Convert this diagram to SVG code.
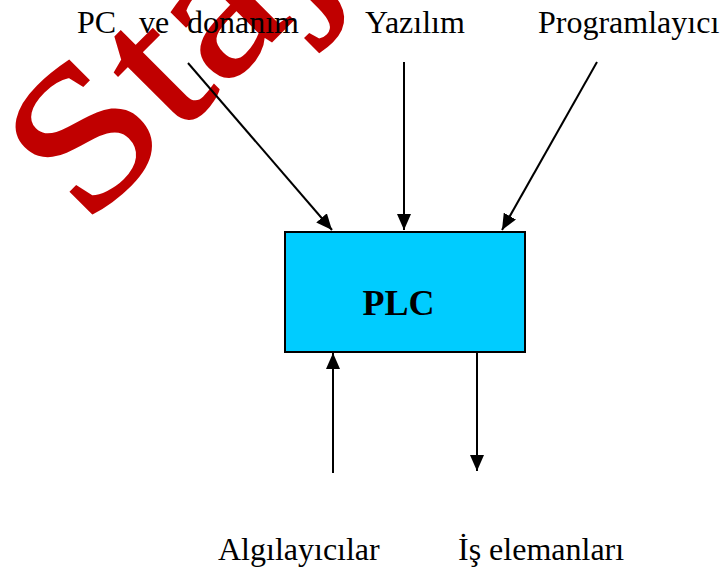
<svg xmlns="http://www.w3.org/2000/svg" width="721" height="572" viewBox="0 0 721 572">
  <style>
    .lbl { font-family: "Liberation Serif", "Times New Roman", serif; font-size: 32px; fill: #000; }
    .plc { font-family: "Liberation Serif", "Times New Roman", serif; font-size: 36px; font-weight: bold; fill: #000; }
    .conn { stroke: #000; stroke-width: 2; fill: none; }
  </style>
  <defs>
    <marker id="arrow" viewBox="0 0 16 14" refX="16" refY="7" markerWidth="16" markerHeight="14" markerUnits="userSpaceOnUse" orient="auto">
      <path d="M0,0 L16,7 L0,14 z" fill="#000"/>
    </marker>
  </defs>
  <rect width="721" height="572" fill="#fff"/>
  <g id="watermark">
    <text font-family="Liberation Serif, serif" font-size="202" fill="#C00000" stroke="#C00000" stroke-width="2" transform="translate(85,228) rotate(-45) scale(1.15,1)">Staj</text>
  </g>
  <g id="plc">
    <rect x="285" y="232" width="240" height="120" fill="#00CCFF" stroke="#000" stroke-width="2"/>
    <text class="plc" x="398.5" y="315" text-anchor="middle">PLC</text>
  </g>
  <g id="pc">
    <text class="lbl" x="77" y="33">PC</text>
    <text class="lbl" x="139" y="33">ve</text>
    <text class="lbl" x="187" y="33">donanım</text>
  </g>
  <g id="yazilim"><text class="lbl" x="365" y="33">Yazılım</text></g>
  <g id="programlayici"><text class="lbl" x="538" y="33">Programlayıcı</text></g>
  <g id="algilayicilar"><text class="lbl" x="218" y="560">Algılayıcılar</text></g>
  <g id="is-elemanlari"><text class="lbl" x="458" y="560">İş elemanları</text></g>
  <g id="connectors">
    <line class="conn" x1="188" y1="63" x2="332" y2="230" marker-end="url(#arrow)"/>
    <line class="conn" x1="404" y1="62" x2="404" y2="230" marker-end="url(#arrow)"/>
    <line class="conn" x1="597" y1="62" x2="502" y2="230" marker-end="url(#arrow)"/>
    <line class="conn" x1="333" y1="473" x2="333" y2="353" marker-end="url(#arrow)"/>
    <line class="conn" x1="477" y1="353" x2="477" y2="471" marker-end="url(#arrow)"/>
  </g>
</svg>
